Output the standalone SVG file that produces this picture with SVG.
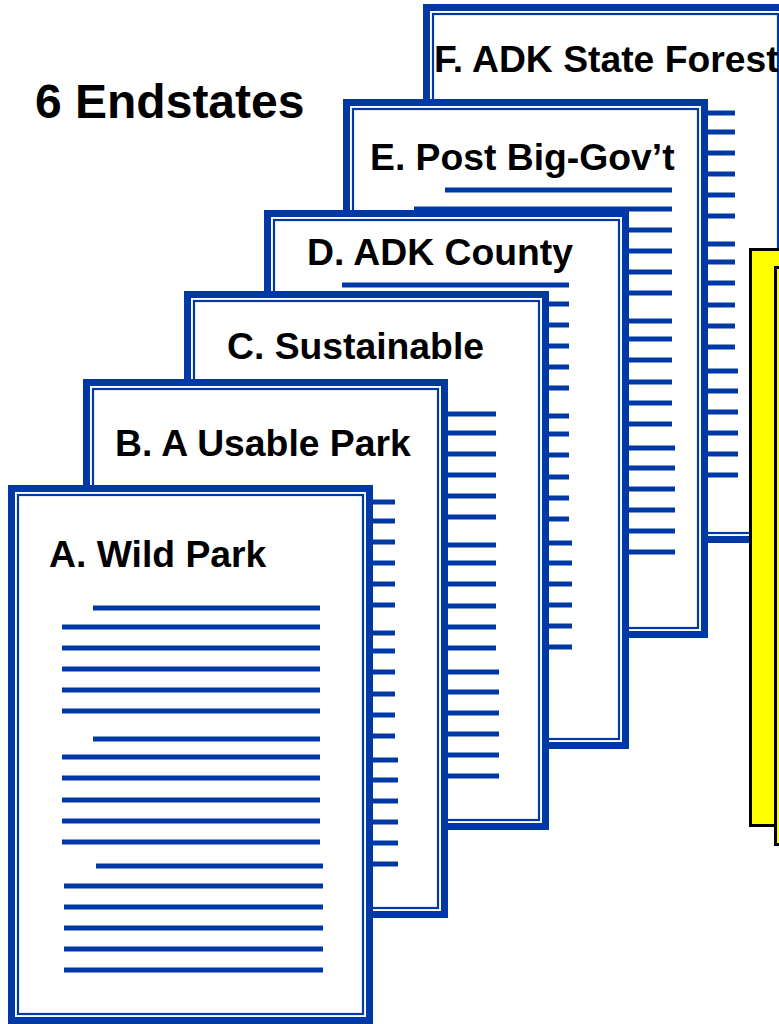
<svg xmlns="http://www.w3.org/2000/svg" xmlns:xlink="http://www.w3.org/1999/xlink" width="779" height="1024" viewBox="0 0 779 1024">
<style>
.frame{fill:#ffffff;stroke:#0039A6;stroke-width:7}
.inner{fill:none;stroke:#0039A6;stroke-width:2.2}
.ln{stroke:#0039A6;stroke-width:5;fill:none}
.title{font-family:"Liberation Sans",Arial,Helvetica,sans-serif;font-weight:bold;font-size:37.3px;fill:#000000}
.note{fill:#FFFF00;stroke:#000000;stroke-width:3}
</style>
<defs>
<g id="doclines">
<line class="ln" x1="85" y1="123" x2="312" y2="123"/>
<line class="ln" x1="54" y1="142" x2="312" y2="142"/>
<line class="ln" x1="54" y1="163" x2="312" y2="163"/>
<line class="ln" x1="54" y1="184" x2="312" y2="184"/>
<line class="ln" x1="54" y1="205" x2="312" y2="205"/>
<line class="ln" x1="54" y1="226" x2="312" y2="226"/>
<line class="ln" x1="85" y1="254" x2="312" y2="254"/>
<line class="ln" x1="54" y1="272" x2="312" y2="272"/>
<line class="ln" x1="54" y1="293" x2="312" y2="293"/>
<line class="ln" x1="54" y1="315" x2="312" y2="315"/>
<line class="ln" x1="54" y1="336" x2="312" y2="336"/>
<line class="ln" x1="54" y1="357" x2="312" y2="357"/>
<line class="ln" x1="88" y1="381" x2="315" y2="381"/>
<line class="ln" x1="56" y1="401" x2="315" y2="401"/>
<line class="ln" x1="56" y1="422" x2="315" y2="422"/>
<line class="ln" x1="56" y1="443" x2="315" y2="443"/>
<line class="ln" x1="56" y1="464" x2="315" y2="464"/>
<line class="ln" x1="56" y1="485" x2="315" y2="485"/>
</g>
</defs>

<g id="heading">
<text x="35" y="118" font-family="Liberation Sans, Arial, sans-serif" font-weight="bold" font-size="48" fill="#000">6 Endstates</text>
</g>

<g id="doc-f" transform="translate(423,4)">
<rect class="frame" x="3.5" y="3.5" width="358" height="532"/>
<rect class="inner" x="10" y="10" width="345" height="519"/>
<use xlink:href="#doclines" href="#doclines" transform="translate(0,-14)"/>
<text class="title" x="11" y="68">F. ADK State Forest</text>
</g>

<g id="doc-e" transform="translate(343,99)">
<rect class="frame" x="3.5" y="3.5" width="358" height="532"/>
<rect class="inner" x="10" y="10" width="345" height="519"/>
<use xlink:href="#doclines" href="#doclines" transform="translate(17,-32)"/>
<text class="title" x="27" y="71">E. Post Big-Gov’t</text>
</g>

<g id="doc-d" transform="translate(264,210)">
<rect class="frame" x="3.5" y="3.5" width="358" height="532"/>
<rect class="inner" x="10" y="10" width="345" height="519"/>
<use xlink:href="#doclines" href="#doclines" transform="translate(-7,-48)"/>
<text class="title" x="43" y="55">D. ADK County</text>
</g>

<g id="doc-c" transform="translate(184,291)">
<rect class="frame" x="3.5" y="3.5" width="358" height="532"/>
<rect class="inner" x="10" y="10" width="345" height="519"/>
<use xlink:href="#doclines" href="#doclines" transform="translate(0,0)"/>
<text class="title" x="43" y="68">C. Sustainable</text>
</g>

<g id="doc-b" transform="translate(83,379)">
<rect class="frame" x="3.5" y="3.5" width="358" height="532"/>
<rect class="inner" x="10" y="10" width="345" height="519"/>
<use xlink:href="#doclines" href="#doclines" transform="translate(0,0)"/>
<text class="title" x="32" y="77">B. A Usable Park</text>
</g>

<g id="doc-a" transform="translate(8,485)">
<rect class="frame" x="3.5" y="3.5" width="358" height="532"/>
<rect class="inner" x="10" y="10" width="345" height="519"/>
<use xlink:href="#doclines" href="#doclines" transform="translate(0,0)"/>
<text class="title" x="41" y="82">A. Wild Park</text>
</g>

<g id="note-yellow">
<rect class="note" x="750.5" y="249.5" width="60" height="576"/>
<rect class="note" x="775.5" y="267.5" width="40" height="577"/>
</g>

<g id="connectors"></g>
</svg>
